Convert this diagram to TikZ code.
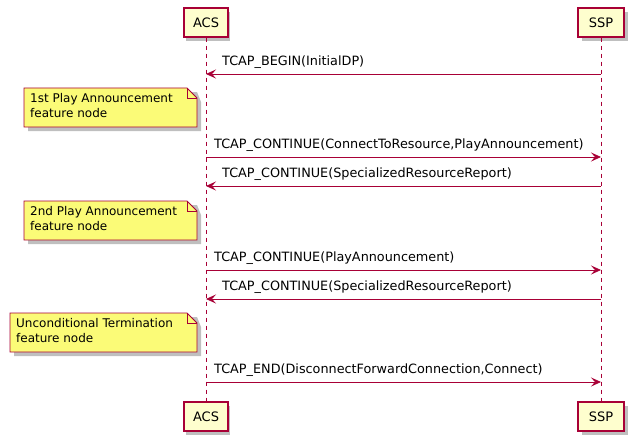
\documentclass[tikz,border=0pt]{standalone}
\usepackage{fontspec}
\setmainfont{DejaVu Sans}
\usetikzlibrary{arrows.meta}
\definecolor{bd}{HTML}{A80036}
\definecolor{pf}{HTML}{FEFECE}
\definecolor{nf}{HTML}{FBFB77}
\begin{document}
\begin{tikzpicture}[x=1pt,y=-1pt,font=\fontsize{13}{15}\selectfont,
 part/.style={draw=bd,fill=pf,line width=1.1pt,minimum width=44pt,minimum height=29pt,inner sep=0pt},
 msg/.style={draw=bd,line width=0.8pt,-{Stealth[length=10pt,width=9pt,inset=4pt]}},
 lbl/.style={anchor=south west,inner sep=0pt,font=\fontsize{12.8}{15}\selectfont},
 ntxt/.style={align=left,anchor=north west,inner sep=0pt,font=\fontsize{12}{15.5}\selectfont}]
\useasboundingbox (0,0) rectangle (632,444);
\fill[black!25] (186,12) rectangle (230,41);
\fill[black!25] (582,12) rectangle (628,41);
\fill[black!25] (186,406) rectangle (230,435);
\fill[black!25] (582,406) rectangle (628,435);
\node[part] (a1) at (206,22.5) {ACS};
\node[part,minimum width=46pt] (s1) at (601,22.5) {SSP};
\node[part] (a2) at (206,416.5) {ACS};
\node[part,minimum width=46pt] (s2) at (601,416.5) {SSP};
\draw[bd,dash pattern=on 4pt off 4pt,line width=0.8pt] (a1.south) -- (a2.north);
\draw[bd,dash pattern=on 4pt off 4pt,line width=0.8pt] (s1.south) -- (s2.north);
\foreach \y/\nm in {74/m1,157/m2,186/m3,270/m4,299/m5,382/m6}{
  \coordinate (A\nm) at (206,\y); \coordinate (S\nm) at (601,\y);}
\draw[msg] (Sm1) -- (Am1); \node[lbl] at (222,69) {TCAP\_BEGIN(InitialDP)};
\draw[msg] (Am2) -- (Sm2); \node[lbl] at (214,152) {TCAP\_CONTINUE(ConnectToResource,PlayAnnouncement)};
\draw[msg] (Sm3) -- (Am3); \node[lbl] at (222,181) {TCAP\_CONTINUE(SpecializedResourceReport)};
\draw[msg] (Am4) -- (Sm4); \node[lbl] at (214,265) {TCAP\_CONTINUE(PlayAnnouncement)};
\draw[msg] (Sm5) -- (Am5); \node[lbl] at (222,294) {TCAP\_CONTINUE(SpecializedResourceReport)};
\draw[msg] (Am6) -- (Sm6); \node[lbl] at (214,377) {TCAP\_END(DisconnectForwardConnection,Connect)};
\foreach \x/\y/\t/\nm in {24/88/{1st Play Announcement\\feature node}/n1,24/201/{2nd Play Announcement\\feature node}/n2,10/313/{Unconditional Termination\\feature node}/n3}{
  \fill[black!25] (\x+4,\y+4) -- (193+4,\y+4) -- (197+4,\y+14) -- (197+4,\y+43) -- (\x+4,\y+43) -- cycle;
  \draw[bd,fill=nf,line width=0.8pt] (\x,\y) -- (187,\y) -- (197,\y+10) -- (197,\y+39) -- (\x,\y+39) -- cycle;
  \draw[bd,line width=0.8pt] (187,\y) -- (187,\y+10) -- (197,\y+10);
  \node[ntxt] (\nm) at (\x+6,\y+5) {\t};}
\end{tikzpicture}
\end{document}
